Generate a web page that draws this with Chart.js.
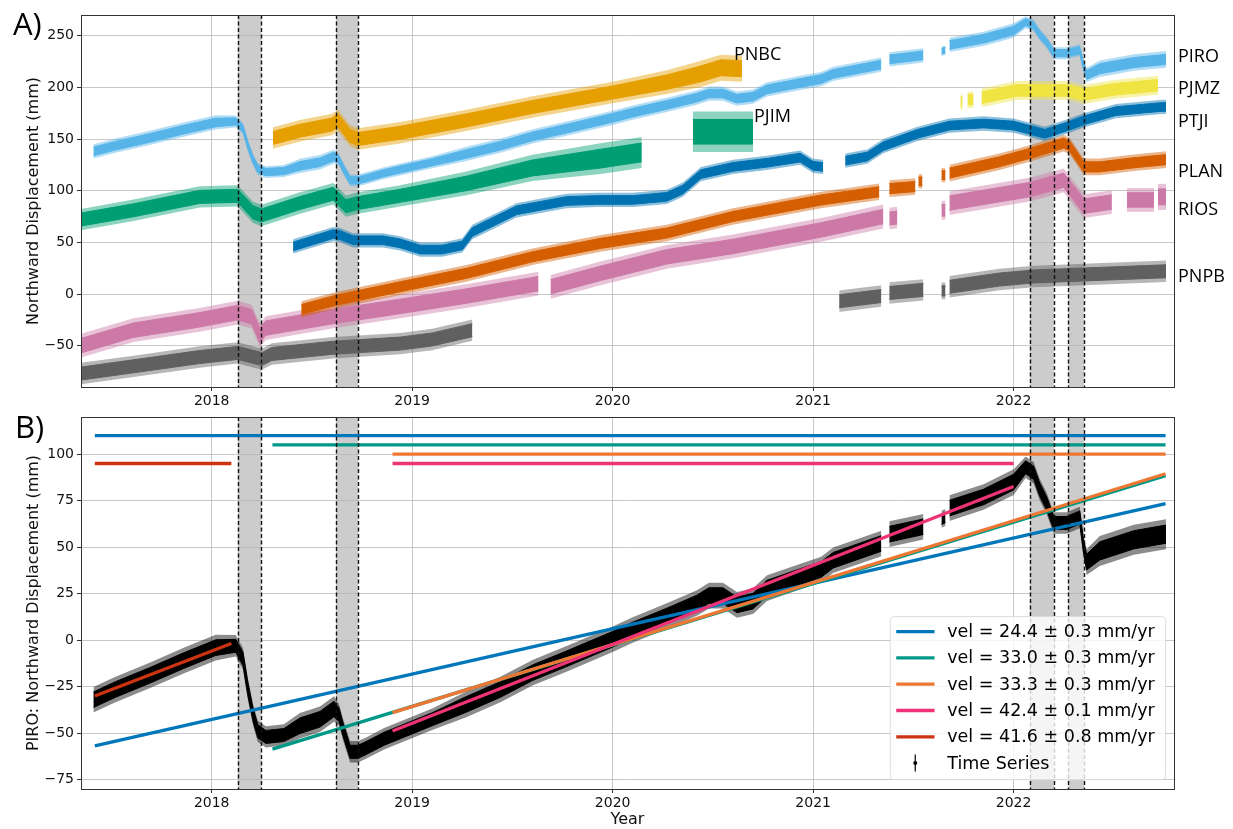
<!DOCTYPE html>
<html>
<head>
<meta charset="utf-8">
<script src="https://cdn.jsdelivr.net/npm/chart.js@4.4.1/dist/chart.umd.min.js"></script>
<style>
  html, body { margin: 0; padding: 0; background: #fff; }
  #wrap { position: relative; width: 1233px; height: 829px; overflow: hidden; }
  canvas { position: absolute; left: 0; }
  #chartA { top: 0; }
  #chartB { top: 400px; }
</style>
</head>
<body>
<div id="wrap">
  <canvas id="chartA" width="1233" height="410"></canvas>
  <canvas id="chartB" width="1233" height="429"></canvas>
</div>
<script>
// ---- values ----
const yearTicks = [2018, 2019, 2020, 2021, 2022];
const ticksA = [-50, 0, 50, 100, 150, 200, 250];
const ticksB = [-75, -50, -25, 0, 25, 50, 75, 100];

// shaded event windows (decimal year)
const spanStart = [2018.130, 2018.620, 2022.081, 2022.273];
const spanEnd   = [2018.248, 2018.731, 2022.201, 2022.351];

// rows are [year, centre, half spread] in mm, null marks a data gap
const piro = [
  [2017.41,-32,6],[2017.52,-26.5,6],[2017.69,-19,6],[2017.86,-11,6],[2018.02,-4,6],[2018.12,-3,5],
  [2018.156,-10,5],[2018.18,-26,5],[2018.206,-40,5],[2018.23,-49,5],[2018.27,-52,5],[2018.36,-51,5],
  [2018.44,-46,6],[2018.54,-42.5,6],[2018.61,-37,6],[2018.635,-40,5],[2018.655,-48,5],[2018.69,-60,5],
  [2018.73,-60,5],[2018.77,-58,5],[2018.86,-53,5],[2018.94,-49.5,5],[2019.1,-42.5,5],[2019.27,-34.5,6],
  [2019.44,-26.5,6],[2019.6,-17.5,6],[2019.77,-10,6],[2020.0,0.5,6],[2020.1,5.5,6],[2020.27,13,6],
  [2020.42,20,6],[2020.48,24,6],[2020.55,24,6],[2020.62,19,6],[2020.7,21,6],[2020.77,28,6],
  [2020.93,34,6],[2021.04,38,6],[2021.1,43,6],[2021.34,52,6],
  null,
  [2021.38,57,6],[2021.55,61,6],
  null,
  [2021.64,65,4],[2021.66,66,4],
  null,
  [2021.68,71,6],[2021.85,77,6],[2022.0,85,6],[2022.06,93,5],[2022.1,90,5],[2022.13,81,5],
  [2022.165,73.5,5],[2022.2,63,5],[2022.265,63,5],[2022.33,66,5],[2022.348,51,5],[2022.364,42,6],
  [2022.43,48,7],[2022.6,54,7],[2022.76,57,7]
];
const piroShiftA = 170;   // display offset of PIRO in panel A

const pnbc = [
  [2018.306,151,9],[2018.44,158,9],[2018.6,164,9],[2018.63,168,9],[2018.69,153,9],[2018.73,150,9],
  [2018.94,156,9],[2019.27,168,9],[2019.6,181,9],[2020.0,195,9],[2020.27,205,10],[2020.44,213,11],
  [2020.54,219,11],[2020.645,218,11]
];
const pjim = [
  [2017.348,72,9],[2017.61,81,9],[2017.94,94,9],[2018.13,95,9],[2018.206,79,9],[2018.248,76,9],
  [2018.44,88,9],[2018.606,97,9],[2018.67,85,9],[2018.73,88,9],[2018.94,95,9],[2019.27,107,10],
  [2019.6,122,11],[2019.94,131,13],[2020.145,137,13],
  null,
  [2020.40,157,17],[2020.70,157,17]
];
const ptji = [
  [2018.406,46,6],[2018.606,58,6],[2018.64,57,6],[2018.705,52,6],[2018.855,52,6],[2018.94,49,6],
  [2019.04,43,6],[2019.15,43,6],[2019.25,47,6],[2019.3,60,6],[2019.52,81,6],[2019.77,90,6],
  [2019.92,91,6],[2020.1,91,6],[2020.27,94,6],[2020.35,101,6],[2020.44,116,6],[2020.6,123,6],
  [2020.77,127,6],[2020.935,132,6],[2021.0,124,6],[2021.05,123,6],
  null,
  [2021.16,129,6],[2021.27,133,6],[2021.35,143,6],[2021.52,155,6],[2021.68,163,6],[2021.85,165,6],
  [2022.0,163,6],[2022.156,155,6],[2022.265,162,6],[2022.35,168,6],[2022.51,177,6],[2022.74,181,6],
  [2022.76,181,6]
];
const pjmz = [
  [2021.735,186,7],[2021.745,186,7],
  null,
  [2021.77,188,7],[2021.80,188,7],
  null,
  [2021.84,190,8],[2022.015,197,8],[2022.265,197,8],[2022.35,193,8],[2022.5,198,8],[2022.72,202,8]
];
const plan = [
  [2018.447,-15,7],[2018.62,-6,7],[2018.94,7,7],[2019.27,20,7],[2019.6,36,7],[2019.94,49,7],
  [2020.27,59,7],[2020.6,75,7],[2021.04,91,7],[2021.33,99,7],
  null,
  [2021.38,102,7],[2021.51,104,7],
  null,
  [2021.525,109,6],[2021.545,109,6],
  null,
  [2021.64,115,6],[2021.66,115,6],
  null,
  [2021.68,117,7],[2021.93,128,7],[2022.08,136,7],[2022.25,146,7],[2022.28,143,7],[2022.35,123,7],
  [2022.43,123,7],[2022.6,127,7],[2022.76,130,7]
];
const rios = [
  [2017.348,-50,10],[2017.61,-35,10],[2017.94,-25,10],[2018.13,-18,10],[2018.2,-22,10],[2018.24,-40,10],
  [2018.27,-33,10],[2018.6,-22,10],[2018.94,-12,10],[2019.27,-2,10],[2019.63,10,10],
  null,
  [2019.69,7,10],[2019.94,20,10],[2020.27,36,10],[2020.6,46,10],[2021.04,62,10],[2021.35,75,10],
  null,
  [2021.38,73,9],[2021.42,74,9],
  null,
  [2021.64,81,8],[2021.66,81,8],
  null,
  [2021.68,88,10],[2022.08,101,10],[2022.25,110,10],[2022.35,85,10],[2022.49,89,10],
  null,
  [2022.565,91,10],[2022.70,91,10],
  null,
  [2022.72,94,11],[2022.76,94,11]
];
const pnpb = [
  [2017.348,-77,9],[2017.61,-70,9],[2017.94,-61,9],[2018.13,-57,9],[2018.25,-63,9],[2018.3,-58,9],
  [2018.606,-52,9],[2018.94,-48,9],[2019.1,-44,9],[2019.3,-35,9],
  null,
  [2021.13,-7,9],[2021.34,-2,9],
  null,
  [2021.38,1,9],[2021.55,4,9],
  null,
  [2021.64,3,7],[2021.66,3,7],
  null,
  [2021.68,7,9],[2021.93,14,9],[2022.1,17,9],[2022.76,22,9]
];

// station names beside panel A
const sideNames  = ['PIRO', 'PJMZ', 'PTJI', 'PLAN', 'RIOS', 'PNPB'];
const sideValues = [229.5, 198.5, 166.5, 118, 81.5, 16.7];
const innerNames  = ['PNBC', 'PJIM'];
const innerYears  = [2020.605, 2020.705];
const innerValues = [231.5, 171.4];

// panel B linear fits: start/end year and displacement (mm)
const fitLabels = ['vel = 24.4 \u00b1 0.3 mm/yr', 'vel = 33.0 \u00b1 0.3 mm/yr', 'vel = 33.3 \u00b1 0.3 mm/yr',
                   'vel = 42.4 \u00b1 0.1 mm/yr', 'vel = 41.6 \u00b1 0.8 mm/yr'];
const fitStartYear = [2017.417, 2018.303, 2018.902, 2018.902, 2017.417];
const fitEndYear   = [2022.758, 2022.758, 2022.758, 2022.0, 2018.098];
const fitStartVal  = [-56.8, -58.6, -38.9, -48.8, -30.0];
const fitEndVal    = [73.4, 88.5, 89.5, 82.6, -1.8];
const fitBarLevel  = [110, 105, 100, 95, 95];   // horizontal bars marking each fit window

// ---- styling ----
const X_MIN = 2017.348, X_MAX = 2022.80;
const GRID = 'rgba(176,176,176,0.7)';
const AXIS = '#333';
const MPL = 'DejaVu Sans';
const fitColors = ['#0077BB', '#009988', '#EE7733', '#EE3377', '#CC3311'];

function withAlpha(hex, a) {
  const n = parseInt(hex.slice(1), 16);
  return 'rgba(' + (n >> 16) + ',' + ((n >> 8) & 255) + ',' + (n & 255) + ',' + a + ')';
}

// noisy record drawn as a solid core plus a paler outer scatter band
function band(rows, color, shift, order) {
  const out = [];
  let run = [];
  const pair = (k, fillColor, ord, bw) => {
    out.push({ data: run.map(r => ({ x: r[0], y: r[1] + shift - r[2] * k })), borderColor: fillColor,
      borderWidth: bw, pointRadius: 0, fill: false, order: ord });
    out.push({ data: run.map(r => ({ x: r[0], y: r[1] + shift + r[2] * k })), borderColor: fillColor,
      borderWidth: bw, backgroundColor: fillColor, pointRadius: 0, fill: '-1', order: ord });
  };
  const flush = () => {
    if (run.length > 1) {
      pair(1.15, withAlpha(color, 0.45), order + 0.5, 0);
      pair(0.7, color, order, 1);
    }
    run = [];
  };
  rows.forEach(r => (r === null ? flush() : run.push(r)));
  flush();
  return out;
}

const minus = v => (v < 0 ? '\u2212' + Math.abs(v) : String(v));

function xAxis(height, title) {
  return {
    type: 'linear', min: X_MIN, max: X_MAX,
    afterBuildTicks: s => { s.ticks = yearTicks.map(v => ({ value: v })); },
    afterFit: s => { s.height = height; },
    ticks: { font: { family: MPL, size: 14 }, color: '#111', padding: 2, maxRotation: 0, autoSkip: false,
      callback: v => String(v) },
    grid: { color: GRID, lineWidth: 1, tickLength: 4, tickColor: AXIS },
    border: { display: false },
    title: { display: !!title, text: title || '', color: '#111', font: { family: MPL, size: 16 },
      padding: { top: 0, bottom: 0 } }
  };
}

function yAxis(min, max, ticks, title) {
  return {
    min: min, max: max,
    afterBuildTicks: s => { s.ticks = ticks.map(v => ({ value: v })); },
    afterFit: s => { s.width = 81; },
    ticks: { font: { family: MPL, size: 14 }, color: '#111', padding: 3, autoSkip: false, callback: minus },
    grid: { color: GRID, lineWidth: 1, tickLength: 4, tickColor: AXIS },
    border: { display: false },
    title: { display: true, text: title, color: '#111', font: { family: MPL, size: 16 },
      padding: { top: 24, bottom: 0 } }
  };
}

// gray windows under the grid, dashed edges and frame above the data
const spans = {
  id: 'spans',
  beforeDraw(chart) {
    const { ctx, chartArea: a, scales: { x } } = chart;
    ctx.save();
    ctx.fillStyle = '#cccccc';
    spanStart.forEach((s, i) => {
      const x0 = x.getPixelForValue(s), x1 = x.getPixelForValue(spanEnd[i]);
      ctx.fillRect(x0, a.top, x1 - x0, a.bottom - a.top);
    });
    ctx.restore();
  },
  afterDatasetsDraw(chart) {
    const { ctx, chartArea: a, scales: { x } } = chart;
    ctx.save();
    ctx.strokeStyle = '#111';
    ctx.lineWidth = 1.4;
    ctx.setLineDash([4, 2.5]);
    spanStart.concat(spanEnd).forEach(v => {
      const px = Math.round(x.getPixelForValue(v)) + 0.5;
      ctx.beginPath();
      ctx.moveTo(px, a.top);
      ctx.lineTo(px, a.bottom);
      ctx.stroke();
    });
    ctx.setLineDash([]);
    ctx.strokeStyle = AXIS;
    ctx.lineWidth = 1;
    ctx.strokeRect(Math.round(a.left) + 0.5, Math.round(a.top) + 0.5,
      Math.round(a.right - a.left), Math.round(a.bottom - a.top));
    ctx.restore();
  }
};

function letter(text, x, y) {
  return {
    id: 'letter',
    afterDraw(chart) {
      const ctx = chart.ctx;
      ctx.save();
      ctx.font = '31px "Open Sans"';
      ctx.fillStyle = '#000';
      ctx.textBaseline = 'alphabetic';
      ctx.fillText(text, x, y);
      ctx.restore();
    }
  };
}

const stationNames = {
  id: 'stationNames',
  afterDraw(chart) {
    const { ctx, chartArea: a, scales: { x, y } } = chart;
    ctx.save();
    ctx.font = '18px "Open Sans"';
    ctx.fillStyle = '#000';
    ctx.textBaseline = 'middle';
    ctx.textAlign = 'left';
    sideNames.forEach((n, i) => ctx.fillText(n, a.right + 4, y.getPixelForValue(sideValues[i])));
    innerNames.forEach((n, i) => ctx.fillText(n, x.getPixelForValue(innerYears[i]), y.getPixelForValue(innerValues[i])));
    ctx.restore();
  }
};

const fitLegend = {
  id: 'fitLegend',
  afterDraw(chart) {
    const { ctx, chartArea: a } = chart;
    ctx.save();
    ctx.font = '17.5px "' + MPL + '"';
    const textW = Math.max(...fitLabels.map(t => ctx.measureText(t).width));
    const rowH = 26.3;
    const w = 57 + textW + 11;
    const h = rowH * 5 + 31.6;
    const right = a.right - 8.3, bottom = a.bottom - 9.3;
    const left = right - w, top = bottom - h;
    ctx.beginPath();
    ctx.roundRect(left, top, w, h, 4);
    ctx.fillStyle = 'rgba(255,255,255,0.8)';
    ctx.fill();
    ctx.strokeStyle = '#dcdcdc';
    ctx.lineWidth = 1;
    ctx.stroke();
    ctx.textBaseline = 'middle';
    ctx.fillStyle = '#000';
    fitLabels.forEach((t, i) => {
      const yy = top + 15 + i * rowH;
      ctx.strokeStyle = fitColors[i];
      ctx.lineWidth = 3.3;
      ctx.beginPath();
      ctx.moveTo(left + 6, yy);
      ctx.lineTo(left + 44.3, yy);
      ctx.stroke();
      ctx.fillText(t, left + 57, yy + 1);
    });
    const ys = top + 15 + 5 * rowH;
    const xm = left + 25;
    ctx.strokeStyle = '#000';
    ctx.lineWidth = 1.2;
    ctx.beginPath();
    ctx.moveTo(xm, ys - 8.5);
    ctx.lineTo(xm, ys + 8.5);
    ctx.stroke();
    ctx.beginPath();
    ctx.arc(xm, ys, 2, 0, Math.PI * 2);
    ctx.fill();
    ctx.fillText('Time Series', left + 57, ys + 1);
    ctx.restore();
  }
};

// ---- panel A ----
const setsA = [].concat(
  band(pnpb, '#606060', 0, 8),
  band(rios, '#CC79A7', 0, 7),
  band(plan, '#D55E00', 0, 6),
  band(ptji, '#0072B2', 0, 5),
  band(pjmz, '#F0E442', 0, 4),
  band(pjim, '#009E73', 0, 3),
  band(piro, '#56B4E9', piroShiftA, 2),
  band(pnbc, '#E69F00', 0, 1)
);

new Chart(document.getElementById('chartA'), {
  type: 'line',
  data: { datasets: setsA },
  options: {
    responsive: false, animation: false, devicePixelRatio: 1, events: [],
    layout: { padding: { top: 15, right: 59, left: 0, bottom: 0 } },
    elements: { line: { tension: 0 } },
    plugins: { legend: { display: false }, tooltip: { enabled: false } },
    scales: { x: xAxis(23, ''), y: yAxis(-90, 270, ticksA, 'Northward Displacement (mm)') }
  },
  plugins: [spans, stationNames, letter('A)', 13, 35)]
});

// ---- panel B ----
const setsB = band(piro, '#000000', 0, 20);
fitLabels.forEach((t, i) => {
  setsB.push({
    data: [{ x: fitStartYear[i], y: fitStartVal[i] }, { x: fitEndYear[i], y: fitEndVal[i] }],
    borderColor: fitColors[i], borderWidth: 3.3, pointRadius: 0, fill: false, order: 10 - i
  });
  setsB.push({
    data: [{ x: fitStartYear[i], y: fitBarLevel[i] }, { x: fitEndYear[i], y: fitBarLevel[i] }],
    borderColor: fitColors[i], borderWidth: 3.3, pointRadius: 0, fill: false, order: 10 - i
  });
});

new Chart(document.getElementById('chartB'), {
  type: 'line',
  data: { datasets: setsB },
  options: {
    responsive: false, animation: false, devicePixelRatio: 1, events: [],
    layout: { padding: { top: 17, right: 59, left: 0, bottom: 0 } },
    elements: { line: { tension: 0 } },
    plugins: { legend: { display: false }, tooltip: { enabled: false } },
    scales: { x: xAxis(40, 'Year'), y: yAxis(-80, 120, ticksB, 'PIRO: Northward Displacement (mm)') }
  },
  plugins: [spans, fitLegend, letter('B)', 15, 38)]
});
</script>
</body>
</html>
